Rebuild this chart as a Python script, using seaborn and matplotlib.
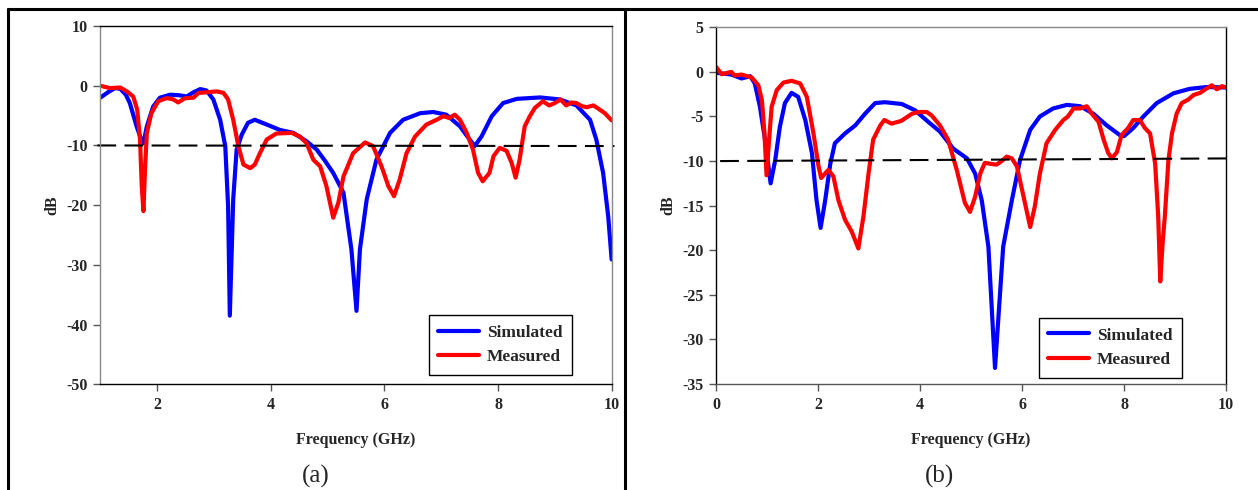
import numpy as np
import pandas as pd
import seaborn as sns
import matplotlib.pyplot as plt
from matplotlib.lines import Line2D

# ---- panel (a) : 1-10 GHz ----
a_sim_f = [1.0, 1.15, 1.26, 1.35, 1.45, 1.52, 1.64, 1.73, 1.76, 1.82, 1.93, 2.05, 2.23, 2.39,
           2.52, 2.64, 2.76, 2.87, 2.99, 3.11, 3.2, 3.25, 3.28, 3.34, 3.40, 3.49, 3.6, 3.72,
           3.93, 4.16, 4.4, 4.63, 4.81, 4.95, 5.1, 5.28, 5.42, 5.51, 5.57, 5.69, 5.86, 6.1,
           6.33, 6.63, 6.86, 7.09, 7.33, 7.5, 7.59, 7.71, 7.89, 8.09, 8.33, 8.74, 9.09, 9.38,
           9.62, 9.73, 9.85, 9.94, 10.0]
a_sim_db = [-2.0, -1.0, -0.4, -0.5, -1.5, -2.9, -6.8, -9.3, -9.6, -6.8, -3.5, -2.0, -1.5, -1.6,
            -1.8, -1.1, -0.56, -0.8, -2.3, -5.7, -10.1, -20.2, -38.5, -19.0, -10.7, -8.2, -6.2,
            -5.7, -6.5, -7.4, -7.9, -9.3, -10.7, -12.5, -14.6, -17.9, -27.4, -37.7, -27.4,
            -19.0, -12.4, -7.9, -5.7, -4.6, -4.4, -4.85, -6.8, -9.0, -10.1, -8.5, -5.1, -2.9,
            -2.2, -1.96, -2.3, -3.3, -5.7, -9.0, -14.6, -21.9, -29.1]

a_mea_f = [1.0, 1.17, 1.35, 1.47, 1.58, 1.65, 1.70, 1.73, 1.76, 1.79, 1.82, 1.9, 2.02, 2.17,
           2.29, 2.37, 2.49, 2.64, 2.73, 2.87, 3.05, 3.17, 3.25, 3.34, 3.43, 3.52, 3.64, 3.72,
           3.81, 3.93, 4.1, 4.37, 4.51, 4.63, 4.75, 4.87, 4.98, 5.1, 5.19, 5.28, 5.45, 5.66,
           5.8, 5.95, 6.07, 6.17, 6.27, 6.39, 6.54, 6.74, 6.92, 7.04, 7.14, 7.24, 7.33, 7.45,
           7.56, 7.65, 7.73, 7.85, 7.92, 8.03, 8.15, 8.24, 8.31, 8.38, 8.47, 8.56, 8.65, 8.79,
           8.9, 9.0, 9.1, 9.2, 9.29, 9.38, 9.47, 9.56, 9.68, 9.79, 9.88, 10.0]
a_mea_db = [0.0, -0.4, -0.3, -0.95, -1.8, -4.0, -9.0, -16.8, -21.0, -13.5, -7.9, -4.6, -2.6,
            -2.06, -2.3, -2.8, -2.1, -2.0, -1.2, -1.1, -0.95, -1.2, -2.3, -5.7, -10.1, -13.2,
            -13.8, -13.2, -11.3, -9.0, -8.0, -7.9, -8.5, -9.6, -12.4, -13.5, -16.8, -22.1,
            -19.6, -15.2, -11.3, -9.5, -10.1, -13.5, -16.8, -18.5, -15.7, -11.3, -8.5, -6.5,
            -5.7, -5.1, -5.4, -4.85, -5.7, -7.9, -10.7, -14.6, -16.0, -14.6, -11.8, -10.4,
            -10.9, -12.9, -15.4, -12.4, -6.8, -5.1, -3.7, -2.6, -3.3, -2.9, -2.3, -3.3, -2.8,
            -2.9, -3.4, -3.6, -3.3, -4.0, -4.6, -5.8]

# ---- panel (b) : 0-10 GHz ----
b_sim_f = [0.0, 0.3, 0.5, 0.67, 0.76, 0.86, 0.96, 1.07, 1.16, 1.25, 1.35, 1.48, 1.61, 1.75,
           1.88, 1.97, 2.05, 2.14, 2.24, 2.33, 2.53, 2.73, 2.92, 3.12, 3.31, 3.64, 3.9, 4.16,
           4.39, 4.65, 4.92, 5.08, 5.21, 5.34, 5.47, 5.63, 5.8, 5.96, 6.16, 6.35, 6.61, 6.88,
           7.14, 7.4, 7.66, 7.92, 8.0, 8.18, 8.38, 8.64, 8.97, 9.29, 9.62, 10.0]
b_sim_db = [-0.1, -0.3, -0.74, -0.48, -1.3, -3.9, -7.6, -12.5, -9.9, -6.2, -3.5, -2.35, -2.8,
            -5.4, -9.1, -14.4, -17.5, -14.4, -10.3, -8.0, -6.9, -6.0, -4.7, -3.5, -3.4, -3.6,
            -4.3, -5.6, -6.7, -8.6, -9.7, -11.4, -14.4, -19.6, -33.2, -19.6, -14.4, -9.9,
            -6.5, -5.0, -4.1, -3.7, -3.85, -4.7, -6.0, -7.1, -7.2, -6.3, -5.0, -3.5, -2.4,
            -1.9, -1.7, -1.75]

b_mea_f = [0.0, 0.11, 0.3, 0.36, 0.5, 0.7, 0.83, 0.9, 0.95, 0.99, 1.04, 1.09, 1.19, 1.32,
           1.48, 1.65, 1.78, 1.91, 2.01, 2.06, 2.2, 2.3, 2.4, 2.53, 2.66, 2.79, 2.89, 2.99,
           3.08, 3.22, 3.3, 3.44, 3.63, 3.84, 3.97, 4.13, 4.23, 4.39, 4.55, 4.72, 4.88, 4.98,
           5.08, 5.18, 5.27, 5.37, 5.5, 5.6, 5.7, 5.8, 5.9, 6.03, 6.16, 6.25, 6.35, 6.48,
           6.65, 6.81, 6.9, 7.01, 7.14, 7.27, 7.37, 7.5, 7.6, 7.69, 7.76, 7.86, 7.95, 8.08,
           8.18, 8.31, 8.41, 8.51, 8.61, 8.67, 8.71, 8.76, 8.8, 8.87, 8.94, 9.03, 9.13, 9.26,
           9.36, 9.49, 9.62, 9.72, 9.82, 9.92, 10.0]
b_mea_db = [0.56, -0.26, 0.0, -0.4, -0.3, -0.63, -1.5, -3.2, -6.9, -11.6, -7.6, -3.9, -2.05,
            -1.2, -1.0, -1.3, -2.8, -6.9, -10.6, -11.9, -11.0, -11.7, -14.4, -16.6, -17.9,
            -19.8, -16.2, -11.4, -7.6, -6.0, -5.4, -5.8, -5.5, -4.7, -4.5, -4.5, -4.9, -6.0,
            -7.6, -11.0, -14.7, -15.7, -14.0, -11.4, -10.2, -10.3, -10.4, -10.0, -9.5, -9.7,
            -10.6, -14.0, -17.4, -15.1, -11.4, -8.0, -6.5, -5.4, -5.0, -4.1, -4.1, -3.85,
            -4.7, -5.6, -7.6, -9.1, -9.7, -9.0, -7.1, -6.3, -5.4, -5.4, -6.3, -6.9, -10.3,
            -16.2, -23.5, -18.9, -16.2, -9.9, -6.9, -4.7, -3.5, -3.1, -2.6, -2.35, -1.86,
            -1.5, -1.95, -1.6, -1.75]

sns.set_style("white")
plt.rcParams['font.family'] = ['Liberation Serif', 'DejaVu Serif']
plt.rcParams['axes.unicode_minus'] = False

fig = plt.figure(figsize=(12.58, 4.9), dpi=100)
ax_a = fig.add_axes([0.0797, 0.2157, 0.4065, 0.7312])
ax_b = fig.add_axes([0.5692, 0.2163, 0.4054, 0.7280])

BLUE = "#0000ff"
RED = "#ff0000"


def draw_panel(ax, sim_f, sim_db, mea_f, mea_db):
    sim = pd.DataFrame({"f": sim_f, "dB": sim_db})
    mea = pd.DataFrame({"f": mea_f, "dB": mea_db})
    sns.lineplot(data=sim, x="f", y="dB", ax=ax, color=BLUE, lw=3, label="Simulated",
                 estimator=None, sort=False)
    sns.lineplot(data=mea, x="f", y="dB", ax=ax, color=RED, lw=3, label="Measured",
                 estimator=None, sort=False)
    for s in ax.spines.values():
        s.set_color("black")
        s.set_linewidth(1.0)
    ax.tick_params(axis="both", direction="out", length=5, width=1, color="#555555",
                   labelsize=11.5, pad=4, bottom=True, left=True)
    ax.set_xlabel("Frequency (GHz)", fontsize=11.5, fontweight="bold", labelpad=14)
    ax.set_ylabel("dB", fontsize=11.5, fontweight="bold", labelpad=4)


def finish(ax, anchor):
    for t in ax.get_xticklabels() + ax.get_yticklabels():
        t.set_fontweight("bold")
    ax.legend(loc="lower right", bbox_to_anchor=anchor, borderaxespad=0,
              fancybox=False, edgecolor="black", framealpha=1,
              prop={"weight": "bold", "size": 12.5}, handlelength=2.35,
              handletextpad=0.45, labelspacing=0.5, borderpad=0.55)


# (a)
draw_panel(ax_a, a_sim_f, a_sim_db, a_mea_f, a_mea_db)
ax_a.set_xlim(1, 10)
ax_a.set_ylim(-50, 10)
ax_a.set_xticks([2, 4, 6, 8, 10])
ax_a.set_yticks(range(-50, 11, 10))
ax_a.spines["left"].set_color("#888888")
ax_a.spines["right"].set_color("#888888")
ax_a.plot([0.95, 10.05], [-10, -10.1], color="black", lw=1.5, dashes=(9, 4), clip_on=False)
finish(ax_a, (0.923, 0.026))

# (b)
draw_panel(ax_b, b_sim_f, b_sim_db, b_mea_f, b_mea_db)
ax_b.set_xlim(0, 10)
ax_b.set_ylim(-35, 5)
ax_b.set_xticks(range(0, 11, 2))
ax_b.set_yticks(range(-35, 6, 5))
ax_b.spines["top"].set_color("#888888")
ax_b.spines["bottom"].set_color("#555555")
ax_b.plot([0.08, 10.15], [-10, -9.7], color="black", lw=1.5, dashes=(9, 4), clip_on=False)
finish(ax_b, (0.914, 0.017))

# sub-figure captions
fig.text(0.2512, 0.028, "(a)", fontsize=18, ha="center", va="center")
fig.text(0.7472, 0.028, "(b)", fontsize=18, ha="center", va="center")

# outer table border
fig.add_artist(Line2D([0.0066, 1.0], [0.9822, 0.9822], color="black", lw=2.2))
fig.add_artist(Line2D([0.0066, 0.0066], [0.0, 0.9822], color="black", lw=2.2))
fig.add_artist(Line2D([0.4968, 0.4968], [0.0, 0.9822], color="black", lw=2.2))

fig.savefig("out.png", dpi=100)
